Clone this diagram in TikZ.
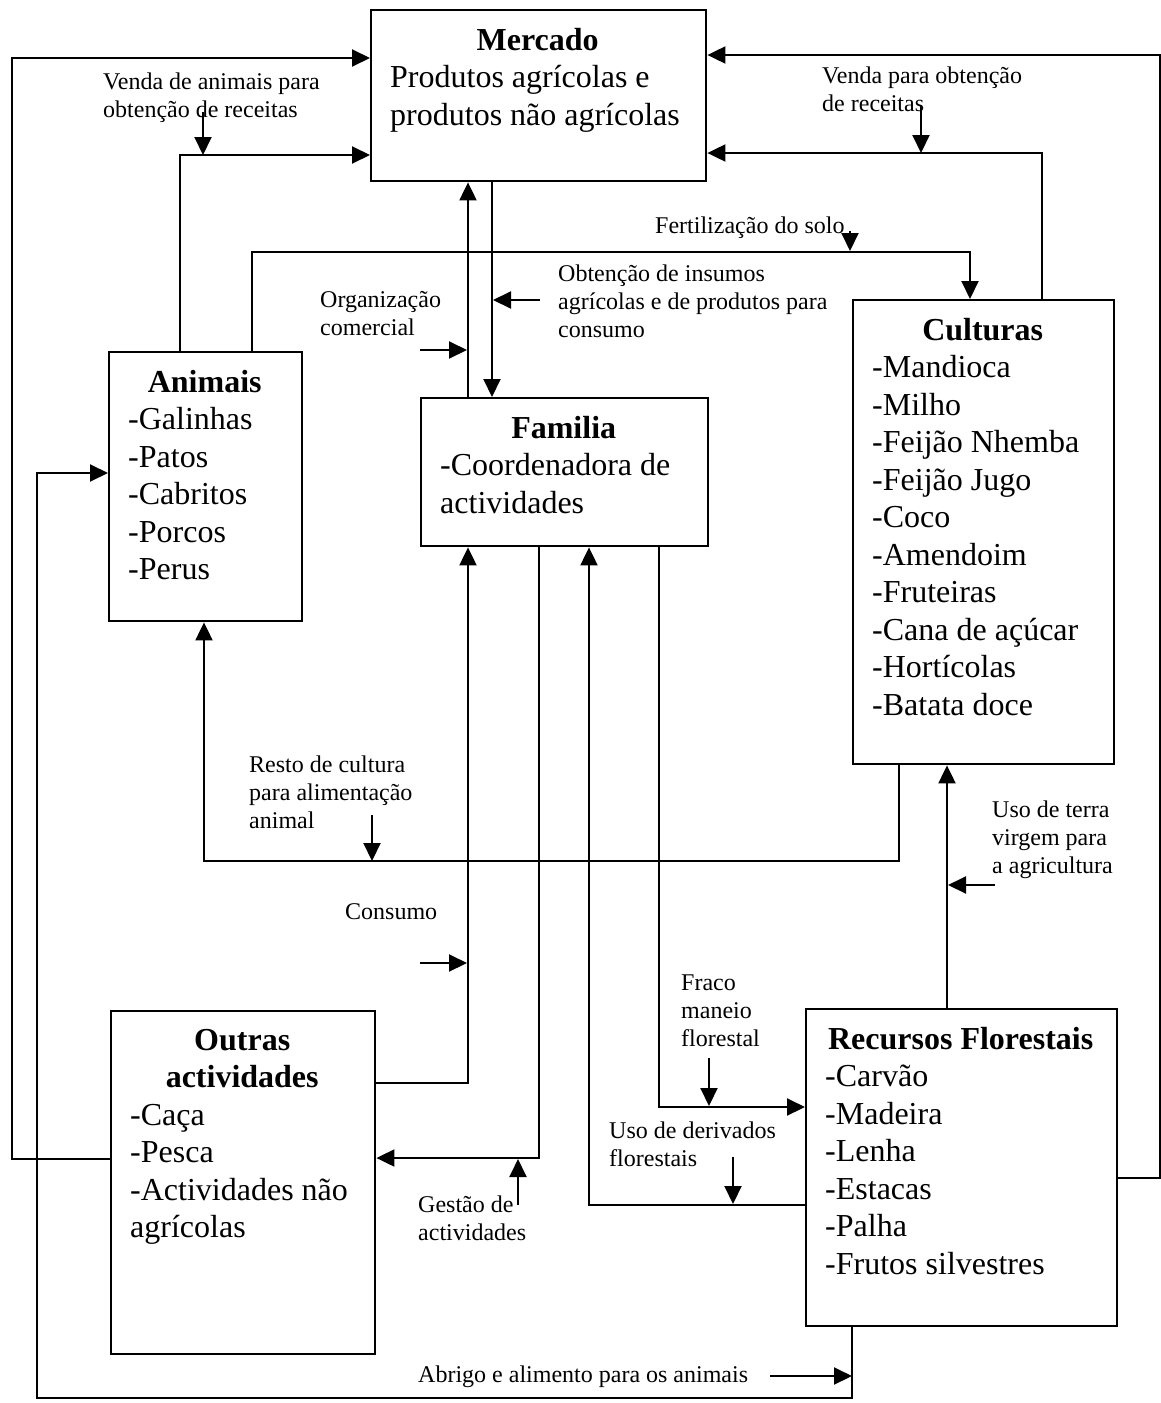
\documentclass[tikz,border=0pt]{standalone}
\usepackage{fontspec}
\setmainfont{Liberation Serif}
\usepackage{tikz}
\usetikzlibrary{arrows.meta, positioning}
\newcommand{\boxfont}{\fontsize{32pt}{37.5pt}\selectfont}
\newcommand{\notefont}{\fontsize{24pt}{28pt}\selectfont}
\tikzset{box/.style={draw=black, line width=2.4pt, anchor=north west, inner sep=0pt},boxtext/.style={anchor=north west, align=flush left, inner sep=0pt, font=\boxfont}}
\tikzset{note/.style={anchor=north west, align=flush left, inner sep=0pt, font=\notefont}}

\begin{document}
\begin{tikzpicture}[
        line join=miter,
        flow/.style={-{Triangle[length=18pt, width=17pt]}, line width=2pt},
        pointer/.style={-{Triangle[length=18pt, width=17pt]}, line width=2pt},
    ]
        \useasboundingbox (0pt, 0pt) rectangle (1161pt, -1403pt);
        % Boxes
        \node[box, minimum width=335pt, minimum height=171pt] (mercado) at (370pt, -9pt) {};
        \node[box, minimum width=193pt, minimum height=269pt] (animais) at (108pt, -351pt) {};
        \node[box, minimum width=287pt, minimum height=148pt] (familia) at (420pt, -397pt) {};
        \node[box, minimum width=261pt, minimum height=464pt] (culturas) at (852pt, -299pt) {};
        \node[box, minimum width=264pt, minimum height=343pt] (outras) at (110pt, -1010pt) {};
        \node[box, minimum width=311pt, minimum height=317pt] (recursos) at (805pt, -1008pt) {};
        % Box texts
        \node[boxtext, text width=312pt, below right=19pt and 20pt of mercado.north west] (mercadotext) {\makebox[295pt]{\bfseries Mercado}\\Produtos agrícolas e\\produtos não agrícolas};
        \node[boxtext, text width=170pt, below right=19pt and 20pt of animais.north west] (animaistext) {\makebox[153pt]{\bfseries Animais}\\-Galinhas\\-Patos\\-Cabritos\\-Porcos\\-Perus};
        \node[boxtext, text width=264pt, below right=19pt and 20pt of familia.north west] (familiatext) {\makebox[247pt]{\bfseries Familia}\\-Coordenadora de\\actividades};
        \node[boxtext, text width=238pt, below right=19pt and 20pt of culturas.north west] (culturastext) {\makebox[221pt]{\bfseries Culturas}\\-Mandioca\\-Milho\\-Feijão Nhemba\\-Feijão Jugo\\-Coco\\-Amendoim\\-Fruteiras\\-Cana de açúcar\\-Hortícolas\\-Batata doce};
        \node[boxtext, text width=241pt, below right=19pt and 20pt of outras.north west] (outrastext) {\makebox[224pt]{\bfseries Outras}\\\makebox[224pt]{\bfseries actividades}\\-Caça\\-Pesca\\-Actividades não\\agrícolas};
        \node[boxtext, text width=288pt, below right=19pt and 20pt of recursos.north west] (recursostext) {\makebox[271pt]{\bfseries Recursos Florestais}\\-Carvão\\-Madeira\\-Lenha\\-Estacas\\-Palha\\-Frutos silvestres};
        % Flows
        \draw[flow] (outras.west |- 0pt,-1159pt) -| (12pt, -58pt) -- (mercado.west |- 0pt,-58pt);
        \draw[flow] (180pt,0pt |- animais.north) |- (mercado.west |- 0pt,-155pt);
        \draw[flow] (252pt,0pt |- animais.north) |- (970pt, -252pt) -- (970pt,0pt |- culturas.north);
        \draw[flow] (468pt,0pt |- familia.north) -- (468pt,0pt |- mercado.south);
        \draw[flow] (492pt,0pt |- mercado.south) -- (492pt,0pt |- familia.north);
        \draw[flow] (1042pt,0pt |- culturas.north) |- (mercado.east |- 0pt,-153pt);
        \draw[flow] (recursos.east |- 0pt,-1178pt) -| (1160pt, -55pt) -- (mercado.east |- 0pt,-55pt);
        \draw[flow] (899pt,0pt |- culturas.south) |- (204pt, -861pt) -- (204pt,0pt |- animais.south);
        \draw[flow] (947pt,0pt |- recursos.north) -- (947pt,0pt |- culturas.south);
        \draw[flow] (outras.east |- 0pt,-1083pt) -| (468pt,0pt |- familia.south);
        \draw[flow] (539pt,0pt |- familia.south) |- (outras.east |- 0pt,-1158pt);
        \draw[flow] (recursos.west |- 0pt,-1205pt) -| (589pt,0pt |- familia.south);
        \draw[flow] (659pt,0pt |- familia.south) |- (recursos.west |- 0pt,-1107pt);
        \draw[flow] (852pt,0pt |- recursos.south) |- (37pt, -1398pt) |- (animais.west |- 0pt,-473pt);
        % Notes
        \node[note] (vendaanimais) at (103pt, -73pt) {Venda de animais para\\obtenção de receitas};
        \node[note] (vendaculturas) at (822pt, -67pt) {Venda para obtenção\\de receitas};
        \node[note] (fertilizacao) at (655pt, -217pt) {Fertilização do solo};
        \node[note] (organizacao) at (320pt, -291pt) {Organização\\comercial};
        \node[note] (obtencao) at (558pt, -265pt) {Obtenção de insumos\\agrícolas e de produtos para\\consumo};
        \node[note] (resto) at (249pt, -756pt) {Resto de cultura\\para alimentação\\animal};
        \node[note] (consumo) at (345pt, -903pt) {Consumo};
        \node[note] (terravirgem) at (992pt, -801pt) {Uso de terra\\virgem para\\a agricultura};
        \node[note] (fraco) at (681pt, -975pt) {Fraco\\maneio\\florestal};
        \node[note] (derivados) at (609pt, -1122pt) {Uso de derivados\\florestais};
        \node[note] (gestao) at (418pt, -1196pt) {Gestão de\\actividades};
        \node[note] (abrigo) at (418pt, -1366pt) {Abrigo e alimento para os animais};
        % Pointers
        \foreach \xa/\ya/\xb/\yb in {
            203/112/203/155,
            921/105/921/153,
            850/231/850/251,
            420/350/467/350,
            540/300/493/300,
            372/815/372/861,
            420/963/467/963,
            995/885/948/885,
            709/1058/709/1106,
            733/1157/733/1204,
            518/1205/518/1159,
            770/1376/852/1376} {
            \draw[pointer] (\xa pt, -\ya pt) -- (\xb pt, -\yb pt);
        }
    \end{tikzpicture}
\end{document}
